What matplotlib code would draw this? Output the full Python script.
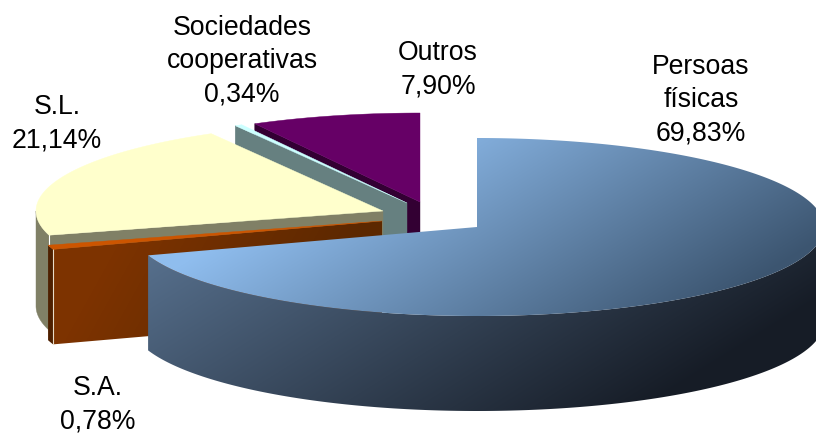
import numpy as np
import matplotlib
matplotlib.use('Agg')
import matplotlib.pyplot as plt
from matplotlib.colors import to_rgb
from matplotlib.patches import Polygon

nomes = ['Persoas\nfísicas', 'S.A.', 'S.L.', 'Sociedades\ncooperativas', 'Outros']
valores = [69.83, 0.78, 21.14, 0.34, 7.90]

# posicion do centro de cada porcion (pixeles)
centros = [(477, 227), (382, 221), (383, 211), (407, 203), (420, 202)]
pos_texto = [(701, 100), (98, 405), (57, 124), (242, 61), (438, 70)]
cor_top = ['#8cbbeb', '#cc5500', '#ffffcc', '#ccffff', '#660066']
cor_lado = ['#56708e', '#7a3200', '#808066', '#668080', '#330033']

RX = 347
RY = 89
FONDO = 95

plt.rcParams['font.family'] = ['Liberation Sans', 'DejaVu Sans']

fig = plt.figure(figsize=(8.16, 4.33), dpi=100)
ax = fig.add_axes([0, 0, 1, 1])
ax.set_xlim(0, 816)
ax.set_ylim(433, 0)
ax.axis('off')

yy, xx = np.mgrid[0:433, 0:816]


def punto(c, ang):
    t = np.radians(ang)
    return c[0] + RX * np.sin(t), c[1] - RY * np.cos(t)


def arco(c, a1, a2):
    angs = np.linspace(a1, a2, max(int(abs(a2 - a1) * 3), 2))
    return np.column_stack(punto(c, angs))


def gradiente(xy, c0, c1, p0, p1, z):
    # degradado lineal de p0 a p1, recortado ao poligono
    dx, dy = p1[0] - p0[0], p1[1] - p0[1]
    f = ((xx - p0[0]) * dx + (yy - p0[1]) * dy) / (dx * dx + dy * dy)
    f = np.clip(f, 0, 1)[..., None]
    img = np.array(to_rgb(c0)) * (1 - f) + np.array(to_rgb(c1)) * f
    im = ax.imshow(img, extent=(0, 816, 433, 0), aspect='auto', zorder=z, interpolation='bilinear')
    pat = Polygon(xy, closed=True, transform=ax.transData, fill=False, edgecolor='none')
    ax.add_patch(pat)
    im.set_clip_path(pat)


def cara(xy, cor, z):
    ax.add_patch(Polygon(xy, closed=True, facecolor=cor, edgecolor=cor, linewidth=0.3, zorder=z))


limites = np.concatenate([[0], np.cumsum(valores)]) / sum(valores) * 360

# de atras cara adiante
for i in [4, 3, 2, 1, 0]:
    c = centros[i]
    a1, a2 = limites[i], limites[i + 1]
    z = 10 + (4 - i) * 5
    top = np.vstack([[c], arco(c, a1, a2)])

    # parede exterior, so a parte de fronte
    f1, f2 = max(a1, 90), min(a2, 270)
    if f2 > f1:
        a = arco(c, f1, f2)
        b = a[::-1] + [0, FONDO]
        parede = np.vstack([a, b])
        if i == 0:
            gradiente(parede, '#566f8c', '#161c26', (150, 258), (356, 588), z)
        elif i == 1:
            gradiente(parede, '#4e2000', '#4e2000', (0, 0), (1, 1), z)
        else:
            cara(parede, cor_lado[i], z)

    # parede do corte
    p = punto(c, a1)
    corte = [c, p, (p[0], p[1] + FONDO), (c[0], c[1] + FONDO)]
    if i == 1:
        gradiente(corte, '#7d3300', '#5c2800', (120, 240), (300, 340), z + 1)
        ax.plot([p[0], p[0]], [p[1], p[1] + FONDO], color='#e8dcc8', lw=0.8, zorder=z + 2)
    elif i != 0:
        cara(corte, cor_lado[i], z + 1)
    if i == 2:
        ax.plot([p[0], p[0]], [p[1], p[1] + FONDO], color='white', lw=0.8, zorder=z + 2)

    # tapa
    if i == 0:
        gradiente(top, '#8fbdee', '#3c5570', (300, 190), (470, 460), z + 2)
    else:
        cara(top, cor_top[i], z + 2)

for nome, v, pos in zip(nomes, valores, pos_texto):
    rotulo = nome + '\n' + ('%.2f' % v).replace('.', ',') + '%'
    ax.text(pos[0], pos[1], rotulo, ha='center', va='center', fontsize=19.2,
            color='black', linespacing=1.36, zorder=60)

fig.savefig('out.png', dpi=100, facecolor='white')
